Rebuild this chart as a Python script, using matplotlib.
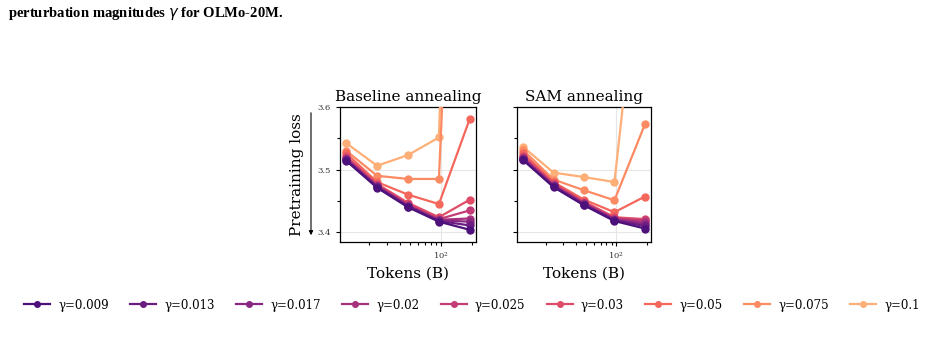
import matplotlib
matplotlib.use("Agg")
import matplotlib.pyplot as plt
import numpy as np
from matplotlib.ticker import MultipleLocator, FuncFormatter

tokens = [12, 24, 48, 96, 192]
gammas = ["0.009", "0.013", "0.017", "0.02", "0.025", "0.03", "0.05", "0.075", "0.1"]

baseline = {
    "0.009": [3.514, 3.471, 3.440, 3.417, 3.404],
    "0.013": [3.515, 3.472, 3.441, 3.418, 3.411],
    "0.017": [3.516, 3.473, 3.442, 3.419, 3.417],
    "0.02":  [3.517, 3.474, 3.443, 3.420, 3.422],
    "0.025": [3.519, 3.475, 3.444, 3.421, 3.435],
    "0.03":  [3.521, 3.477, 3.447, 3.424, 3.452],
    "0.05":  [3.526, 3.480, 3.460, 3.445, 3.581],
    "0.075": [3.530, 3.490, 3.485, 3.485, 4.600],
    "0.1":   [3.542, 3.506, 3.523, 3.551, 5.000],
}
sam = {
    "0.009": [3.515, 3.472, 3.443, 3.418, 3.406],
    "0.013": [3.516, 3.473, 3.444, 3.419, 3.410],
    "0.017": [3.517, 3.474, 3.445, 3.420, 3.413],
    "0.02":  [3.518, 3.475, 3.446, 3.421, 3.416],
    "0.025": [3.520, 3.476, 3.447, 3.422, 3.419],
    "0.03":  [3.522, 3.478, 3.449, 3.424, 3.421],
    "0.05":  [3.526, 3.480, 3.452, 3.432, 3.457],
    "0.075": [3.531, 3.484, 3.467, 3.451, 3.572],
    "0.1":   [3.536, 3.495, 3.488, 3.480, 3.920],
}

cmap = plt.get_cmap("magma")
colors = [cmap(v) for v in np.linspace(0.24, 0.83, len(gammas))]

plt.rcParams["font.family"] = "DejaVu Serif"
fig = plt.figure(figsize=(9.31, 3.38), dpi=100)

W, H = 931, 338
def ax_rect(l, r, t, b):
    return [l / W, 1 - b / H, (r - l) / W, (b - t) / H]

ax1 = fig.add_axes(ax_rect(340, 476, 106.7, 242))
ax2 = fig.add_axes(ax_rect(517, 651, 106.7, 242), sharey=ax1)

handles = {}
for ax, data, title in [(ax1, baseline, "Baseline annealing"), (ax2, sam, "SAM annealing")]:
    for i in reversed(range(len(gammas))):
        g = gammas[i]
        (h,) = ax.plot(tokens, data[g], "-o", color=colors[i], lw=1.6, ms=5,
                       label=f"γ={g}", zorder=3)
        handles[g] = h
    ax.set_xscale("log")
    ax.set_ylim(3.3846, 3.6)
    ax.yaxis.set_major_locator(MultipleLocator(0.1))
    ax.yaxis.set_minor_locator(MultipleLocator(0.05))
    ax.yaxis.set_major_formatter(FuncFormatter(lambda v, p: f"{v:.1f}"))
    ax.grid(True, which="major", color="#e6e6e6", lw=0.8, zorder=0)
    ax.tick_params(axis="both", which="both", labelsize=6, length=3, width=0.8,
                   labelcolor="#333333")
    ax.tick_params(axis="both", which="minor", length=2.2)
    ax.set_title(title, fontsize=11, pad=4)
    ax.set_xlabel("Tokens (B)", fontsize=11, labelpad=3)
    for s in ax.spines.values():
        s.set_linewidth(0.9)
plt.setp(ax2.get_yticklabels(), visible=False)

ax1.set_ylabel("Pretraining loss", fontsize=11, labelpad=10)
fig.add_artist(matplotlib.patches.FancyArrowPatch(
    (311 / W, 1 - 110 / H), (311 / W, 1 - 238 / H), transform=fig.transFigure,
    arrowstyle="-|>", mutation_scale=6, lw=0.8, color="black"))

fig.text(8 / W, 1 - 14 / H, r"perturbation magnitudes $\gamma$ for OLMo-20M.",
         family="Liberation Serif", fontweight="bold", fontsize=10.5,
         ha="left", va="center")

leg_handles = [handles[g] for g in gammas]
fig.legend(leg_handles, [f"γ={g}" for g in gammas], loc="center",
           bbox_to_anchor=(472 / W, 1 - 305 / H), ncol=9, frameon=False,
           fontsize=8.5, handlelength=2.2, columnspacing=1.8, handletextpad=0.7,
           markerscale=0.8)

fig.savefig("out.png", dpi=100)
